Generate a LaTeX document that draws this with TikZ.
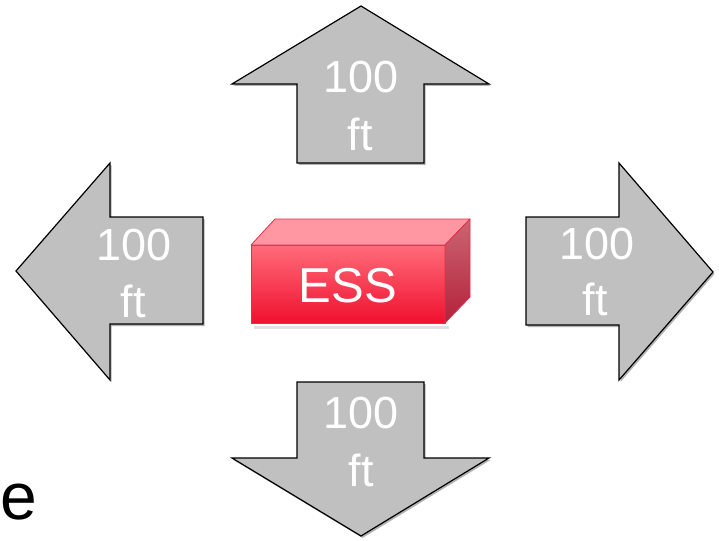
\documentclass[tikz,border=0pt]{standalone}
\usepackage{fontspec}
\setmainfont{Liberation Sans}
\usetikzlibrary{shadows}
\definecolor{arrowgray}{HTML}{C0C0C0}
\definecolor{esstop}{HTML}{FF97A2}
\definecolor{essfronttop}{HTML}{FF6C7B}
\definecolor{essfrontbot}{HTML}{F0102E}
\definecolor{esssidetop}{HTML}{CC6572}
\definecolor{esssidebot}{HTML}{B3213A}
\definecolor{essedge}{HTML}{E0304A}
\begin{document}
\begin{tikzpicture}[x=1pt,y=-1pt,
  bigarrow/.style={draw=black, line width=1.2pt, fill=arrowgray, line join=miter,
    drop shadow={shadow xshift=1.5pt, shadow yshift=-2pt, opacity=0.3, fill=black}},
  lbl/.style={anchor=base, text=white, inner sep=0pt, font=\fontsize{45}{54}\selectfont},
  essface/.style={draw=essedge, line width=0.8pt, line join=round}]
\useasboundingbox (0,0) rectangle (719,540);
\fill[white] (0,0) rectangle (719,540);

% arrows
\draw[bigarrow] (361,6) -- (489,84) -- (424,84) -- (424,163) -- (297,163) -- (297,84) -- (232,84) -- cycle;
\draw[bigarrow] (16,271) -- (110,163) -- (110,217) -- (203,217) -- (203,324) -- (110,324) -- (110,380) -- cycle;
\draw[bigarrow] (713,272) -- (619,380) -- (619,325) -- (526,325) -- (526,217) -- (619,217) -- (619,163) -- cycle;
\draw[bigarrow] (361,536) -- (232,458) -- (297,458) -- (297,382) -- (424,382) -- (424,458) -- (489,458) -- cycle;

% arrow labels
\node[lbl] (up1) at (361,93) {100};
\node[lbl] (up2) at (360,150) {ft};
\node[lbl] (lf1) at (134,260) {100};
\node[lbl] (lf2) at (133,317) {ft};
\node[lbl] (rt1) at (597,259) {100};
\node[lbl] (rt2) at (595,315) {ft};
\node[lbl] (dn1) at (361,428) {100};
\node[lbl] (dn2) at (361,486) {ft};

% ESS box
\fill[black, opacity=0.12] (254,326) rectangle (449,329);
\path[essface, top color=essfronttop, bottom color=essfrontbot] (251,245) rectangle (445,323);
\path[essface, fill=esstop] (251,245) -- (275,219) -- (470,219) -- (445,245) -- cycle;
\path[essface, top color=esssidetop, bottom color=esssidebot] (445,245) -- (470,219) -- (470,297) -- (445,323) -- cycle;
\node[anchor=base, text=white, inner sep=0pt, font=\fontsize{49}{59}\selectfont] (ess) at (348,302) {ESS};

% stray letter
\node[anchor=base west, inner sep=0pt, font=\fontsize{66}{79}\selectfont] (e) at (0,519) {e};
\end{tikzpicture}
\end{document}
